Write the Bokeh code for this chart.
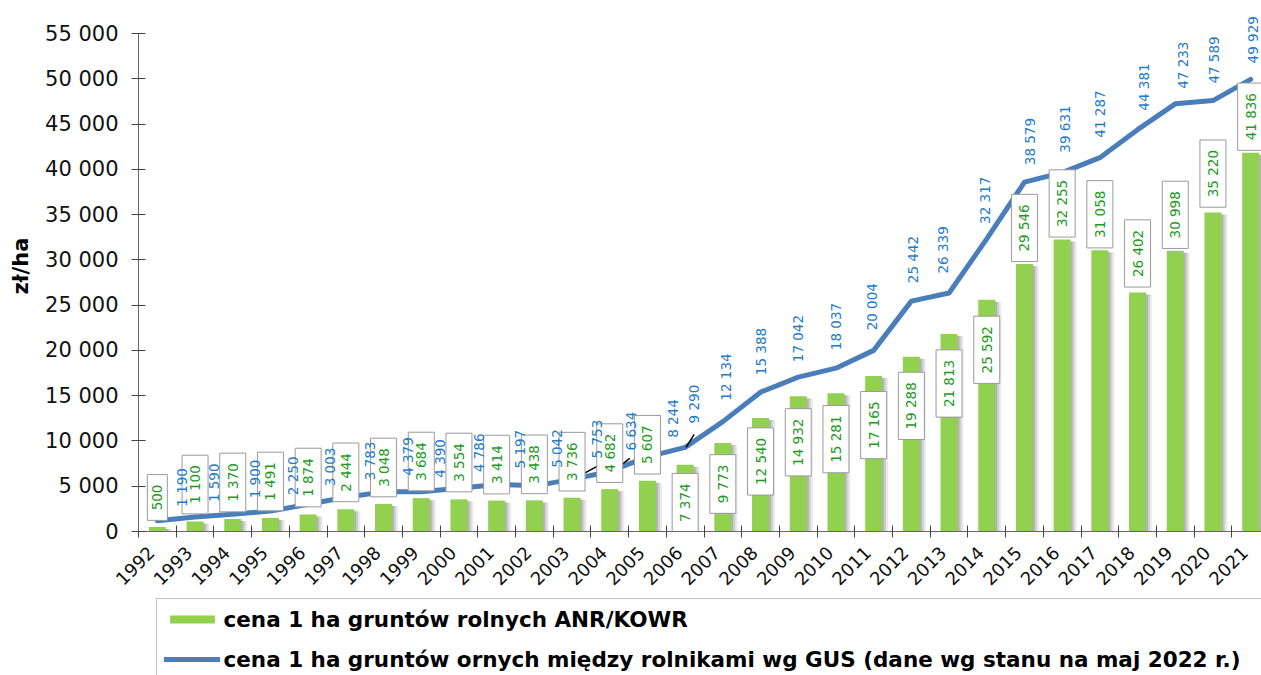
import numpy as np
from math import pi
from bokeh.plotting import figure
from bokeh.layouts import column
from bokeh.models import Range1d, FixedTicker, ColumnDataSource, Legend, LegendItem
from bokeh.embed import file_html
from bokeh.resources import INLINE

# ---------------- data ----------------
years = list(range(1992, 2022))
anr_price = [500, 1100, 1370, 1491, 1874, 2444, 3048, 3684, 3554, 3414, 3438, 3736, 4682, 5607,
             7374, 9773, 12540, 14932, 15281, 17165, 19288, 21813, 25592, 29546, 32255, 31058,
             26402, 30998, 35220, 41836]
gus_price = [1190, 1590, 1900, 2250, 3003, 3783, 4379, 4390, 4786, 5197, 5042, 5753, 6634, 8244,
             9290, 12134, 15388, 17042, 18037, 20004, 25442, 26339, 32317, 38579, 39631, 41287,
             44381, 47233, 47589, 49929]
y_ticks = list(range(0, 55001, 5000))
series_names = ["cena 1 ha gruntów rolnych ANR/KOWR",
                "cena 1 ha gruntów ornych między rolnikami wg GUS (dane wg stanu na maj 2022 r.)"]
y_title = "zł/ha"

# ---------------- label placement (screen pixel offsets, + = right / down) ----------------
anr_lab_dy = [-29.5, -37, -36.6, -36.5, -37, -37, -36.4, -36.6, -36.8, -36, -36, -36, -36, -36,
              38, 41, 43.5, 46, 46, 49, 49, 49.5, 50, -36, -36, -36, -39, -36, -39, -36]
gus_lab_dx = [25, 19, 22, 23, 22, 24, 24, 19, 20, 23, 23, 25, 21, 26, 9, 3, 0, 0, 0, -2, 2, -6,
              -2, 6, 3, 0, 6, 8, 1, 2]
gus_lab_dy = [-14, -15, -16, -16, -18, -17, -16, -14, -16, -16, -18, -21, -21, -19, -24, -21, -17,
              -15, -18, -20, -18, -19.5, -15, -17, -20, -20, -19, -15, -17, -16]
leader_x0 = [None] * 30
leader_y0 = [None] * 30
leader_x1 = [None] * 30
leader_y1 = [None] * 30
for idx, (a, b, c, d) in {11: (1, 0, 25, -13), 12: (2, 1, 20, -13), 14: (1, 0, 9, -13)}.items():
    leader_x0[idx], leader_y0[idx], leader_x1[idx], leader_y1[idx] = a, b, c, d
YEAR_LABEL_SHIFT = -6   # px, rotated year labels

# ---------------- geometry ----------------
W = 1261
H1 = 597           # main chart
H2 = 675 - H1      # legend strip
LEFT = 138
FRAME_W = W - LEFT
FRAME_H = 531
BOTTOM = H1 - FRAME_H
CAT_PX = 37.7
XMAX = FRAME_W / CAT_PX
PXY = 498 / 55000
YMAX = FRAME_H / PXY
PXX = CAT_PX

def fmt(v):
    return f"{v:,}".replace(",", " ")

n = len(years)
xc = np.arange(n) + 0.5
anr = np.array(anr_price, dtype=float)
gus = np.array(gus_price, dtype=float)

BAR_W = 17 / PXX
BAR_COLOR = "#92D050"
LINE_COLOR = "#4A7EBB"

p = figure(width=W, height=H1, output_backend="svg", toolbar_location=None,
           x_range=Range1d(0, XMAX), y_range=Range1d(0, YMAX),
           min_border_left=LEFT, min_border_right=0, min_border_top=0, min_border_bottom=BOTTOM)
p.outline_line_color = None
p.xgrid.visible = False
p.ygrid.visible = False
p.background_fill_color = "white"
p.border_fill_color = "white"

# bar shadows
for k, a in [(2, 0.14), (4, 0.11), (6, 0.08)]:
    p.vbar(x=xc + k / PXX, top=np.maximum(anr - 2 / PXY, 0), width=BAR_W,
           fill_color="black", fill_alpha=a, line_color=None)
bars = p.vbar(x=xc, top=anr, width=BAR_W, fill_color=BAR_COLOR, line_color=None)

line = p.line(xc, gus, line_width=5, line_color=LINE_COLOR, line_join="round", line_cap="round")

# leader lines
lx0 = [xc[i] + leader_x0[i] / PXX if leader_x0[i] is not None else np.nan for i in range(n)]
ly0 = [gus[i] - leader_y0[i] / PXY if leader_y0[i] is not None else np.nan for i in range(n)]
lx1 = [xc[i] + leader_x1[i] / PXX if leader_x1[i] is not None else np.nan for i in range(n)]
ly1 = [gus[i] - leader_y1[i] / PXY if leader_y1[i] is not None else np.nan for i in range(n)]
p.segment(x0=lx0, y0=ly0, x1=lx1, y1=ly1, line_color="black", line_width=1.5)

# green value boxes
src_a = ColumnDataSource(dict(
    x=xc, y=anr - np.array(anr_lab_dy) / PXY, t=[fmt(v) for v in anr_price]))
p.text(x="x", y="y", text="t", source=src_a, angle=pi / 2, text_align="center",
       text_baseline="middle", text_font={"value": "DejaVu Sans"}, text_font_size="13.5px",
       text_color="#1E9A1E", background_fill_color="white", border_line_color="#9a9a9a",
       border_line_width=1, padding=(10, 5))

# blue value labels
src_g = ColumnDataSource(dict(
    x=xc + np.array(gus_lab_dx) / PXX, y=gus - np.array(gus_lab_dy) / PXY,
    t=[fmt(v) for v in gus_price]))
p.text(x="x", y="y", text="t", source=src_g, angle=pi / 2, text_align="left",
       text_baseline="middle", text_font={"value": "DejaVu Sans"}, text_font_size="13.5px",
       text_color="#1F7CCB")

# axes
ax = p.xaxis[0]
label_pos = [float(x + YEAR_LABEL_SHIFT / PXX) for x in xc]
ax.ticker = FixedTicker(ticks=label_pos, minor_ticks=list(range(n + 1)))
ax.major_label_overrides = {x: str(y) for x, y in zip(label_pos, years)}
ax.major_label_orientation = pi / 4
ax.major_tick_in = 0
ax.major_tick_out = 0
ax.minor_tick_in = 6
ax.minor_tick_out = 6
ax.minor_tick_line_color = "#444444"
ax.axis_line_color = "#666666"
ax.major_label_text_font = "DejaVu Sans"
ax.major_label_text_font_size = "18px"
ax.major_label_text_color = "#111111"
ax.major_label_standoff = 12

ay = p.yaxis[0]
ay.ticker = FixedTicker(ticks=y_ticks)
ay.major_label_overrides = {t: fmt(t) for t in y_ticks}
ay.bounds = (0, 55000)
ay.major_tick_in = 7
ay.major_tick_out = 7
ay.minor_tick_line_color = None
ay.major_tick_line_color = "#444444"
ay.axis_line_color = "#666666"
ay.major_label_text_font = "DejaVu Sans"
ay.major_label_text_font_size = "21px"
ay.major_label_text_color = "#111111"
ay.major_label_standoff = 13
ay.axis_label = y_title
ay.axis_label_text_font = "DejaVu Sans"
ay.axis_label_text_font_style = "bold"
ay.axis_label_text_font_size = "21px"
ay.axis_label_text_color = "black"
ay.axis_label_standoff = 9

# ---------------- legend strip ----------------
p2 = figure(width=W, height=H2, output_backend="svg", toolbar_location=None,
            x_range=Range1d(0, 1), y_range=Range1d(0, 1),
            x_axis_location=None, y_axis_location=None,
            min_border_left=LEFT, min_border_right=0, min_border_top=0, min_border_bottom=0)
p2.outline_line_color = None
p2.xgrid.visible = False
p2.ygrid.visible = False
# legend proxies (same data, outside the strip's visible range)
lb = p2.vbar(x=xc + 100, top=anr, width=BAR_W, fill_color=BAR_COLOR, line_color=None)
ll = p2.line(xc + 100, gus, line_width=5, line_color=LINE_COLOR, line_cap="round")

ROW_H, ROW_GAP, PAD = 26, 14, 7
LEG_H = 2 * PAD + 2 * ROW_H + ROW_GAP
legend = Legend(items=[LegendItem(label=series_names[0], renderers=[lb]),
                       LegendItem(label=series_names[1], renderers=[ll])],
                location=(17.5, H2 - 3 - LEG_H), orientation="vertical",
                label_text_font="DejaVu Sans", label_text_font_style="bold",
                label_text_font_size="21.5px", label_text_color="black",
                glyph_width=56, glyph_height=10, label_height=ROW_H, spacing=ROW_GAP,
                padding=PAD, label_standoff=4, label_width=1300,
                border_line_color="#888888", border_line_width=1.5,
                background_fill_color="white", background_fill_alpha=1)
p2.add_layout(legend)

layout = column(p, p2, spacing=0)
open("out.html", "w").write(file_html(layout, INLINE))
